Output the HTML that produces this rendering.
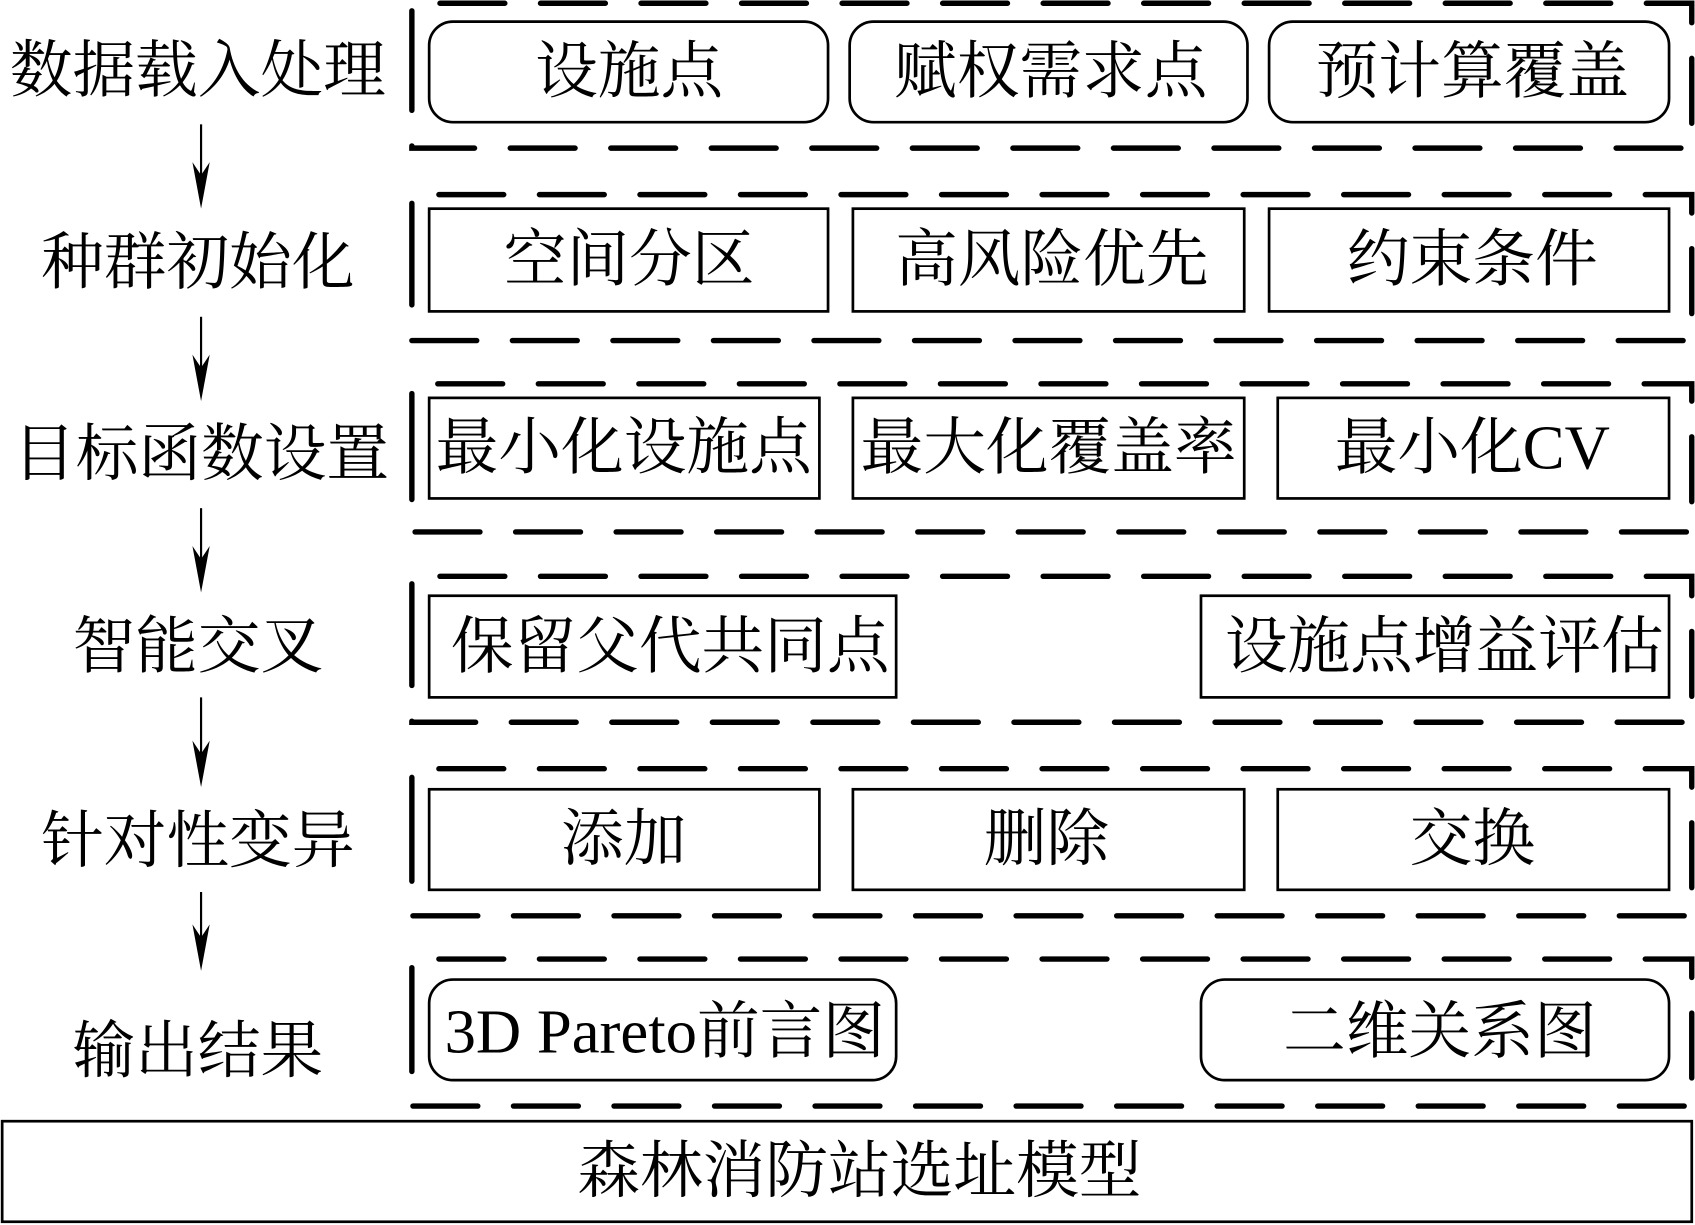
<!DOCTYPE html>
<html><head><meta charset="utf-8"><style>
html,body{margin:0;padding:0;background:#fff;}
svg{display:block;}
text{font-family:"Liberation Serif","Noto Serif CJK SC",serif;font-size:58px;fill:#000;text-anchor:middle;dominant-baseline:central;}
</style></head><body>
<svg width="1695" height="1225" viewBox="0 0 1568 1133" preserveAspectRatio="none" xmlns="http://www.w3.org/2000/svg">
<g fill="none" stroke="#000" stroke-width="5" stroke-dasharray="60 33" stroke-linecap="round">
<path d="M381 70 V3 H1565 V137 H381 Z"/>
<path d="M381 248 V180 H1565 V315 H381 Z"/>
<path d="M381 424 V355 H1565 V492 H381 Z"/>
<path d="M381 600 V533 H1565 V668 H381 Z"/>
<path d="M381 779 V711 H1565 V847 H381 Z"/>
<path d="M381 955 V887 H1565 V1023 H381 Z"/>
</g>
<g fill="none" stroke="#000" stroke-width="2.5">
<rect x="397" y="20" width="369" height="93" rx="22"/>
<rect x="786" y="20" width="368" height="93" rx="22"/>
<rect x="1174" y="20" width="370" height="93" rx="22"/>
<rect x="397" y="193" width="369" height="95"/>
<rect x="789" y="193" width="362" height="95"/>
<rect x="1174" y="193" width="370" height="95"/>
<rect x="397" y="368" width="361" height="93"/>
<rect x="789" y="368" width="362" height="93"/>
<rect x="1182" y="368" width="362" height="93"/>
<rect x="397" y="551" width="432" height="94"/>
<rect x="1111" y="551" width="433" height="94"/>
<rect x="397" y="730" width="361" height="93"/>
<rect x="789" y="730" width="362" height="93"/>
<rect x="1182" y="730" width="362" height="93"/>
<rect x="397" y="906" width="432" height="93" rx="22"/>
<rect x="1111" y="906" width="433" height="93" rx="22"/>
<rect x="2" y="1037" width="1563" height="93"/>
</g>
<g stroke="#000" stroke-width="2">
<line x1="186" y1="115" x2="186" y2="170"/>
<line x1="186" y1="293" x2="186" y2="348"/>
<line x1="186" y1="470" x2="186" y2="525"/>
<line x1="186" y1="645" x2="186" y2="705"/>
<line x1="186" y1="825" x2="186" y2="875"/>
</g>
<g fill="#000">
<polygon points="178,150 186,193 194,150 186,162"/>
<polygon points="178,328 186,371 194,328 186,340"/>
<polygon points="178,505 186,548 194,505 186,517"/>
<polygon points="178,685 186,728 194,685 186,697"/>
<polygon points="178,855 186,898 194,855 186,867"/>
</g>
<text x="183" y="65">数据载入处理</text>
<text x="183" y="243">种群初始化</text>
<text x="186" y="420">目标函数设置</text>
<text x="183" y="598">智能交叉</text>
<text x="183" y="778">针对性变异</text>
<text x="183" y="972">输出结果</text>
<text x="582" y="66">设施点</text>
<text x="972" y="66">赋权需求点</text>
<text x="1362" y="66">预计算覆盖</text>
<text x="582" y="240">空间分区</text>
<text x="973" y="240">高风险优先</text>
<text x="1362" y="240">约束条件</text>
<text x="577" y="414">最小化设施点</text>
<text x="970" y="414">最大化覆盖率</text>
<text x="1362" y="414">最小化CV</text>
<text x="620" y="598">保留父代共同点</text>
<text x="1336" y="598">设施点增益评估</text>
<text x="577" y="776">添加</text>
<text x="968" y="776">删除</text>
<text x="1362" y="776">交换</text>
<text x="615" y="954">3D Pareto前言图</text>
<text x="1332" y="954">二维关系图</text>
<text x="795" y="1083">森林消防站选址模型</text>
</svg>
</body></html>
